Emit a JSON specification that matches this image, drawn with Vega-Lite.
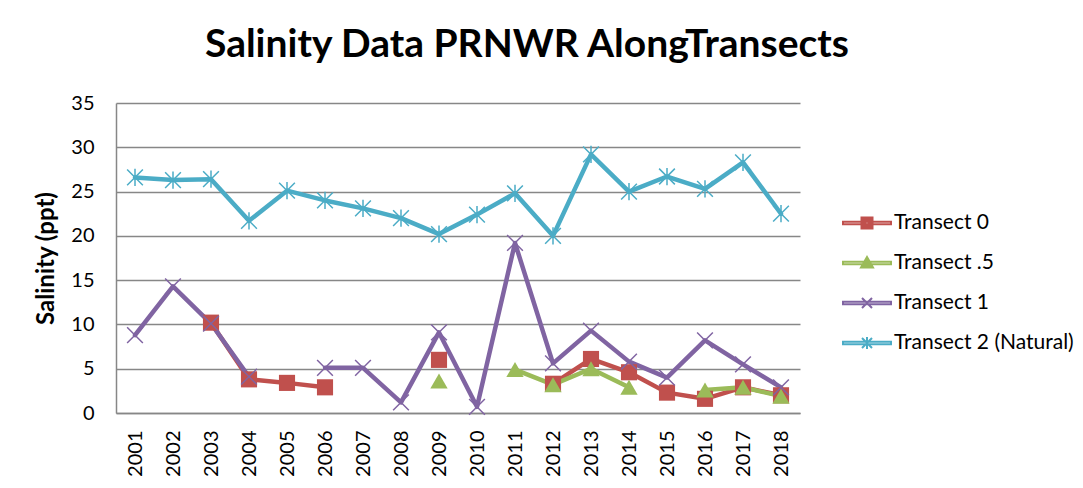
{
  "$schema": "https://vega.github.io/schema/vega-lite/v6.json",
  "width": 684,
  "height": 310,
  "autosize": {"type": "none"},
  "padding": {"left": 116, "top": 103, "right": 283, "bottom": 75},
  "background": "white",
  "title": {
    "text": "Salinity Data PRNWR AlongTransects",
    "font": "Lato",
    "fontSize": 39,
    "fontWeight": "bold",
    "color": "black",
    "anchor": "middle",
    "baseline": "alphabetic",
    "offset": 43,
    "dy": 46,
    "dx": 69
  },
  "config": {
    "view": {"stroke": null},
    "axis": {
      "labelFont": "Lato",
      "labelFontSize": 20,
      "labelColor": "black",
      "titleFont": "Lato",
      "titleColor": "black",
      "ticks": false,
      "tickSize": 0,
      "domainColor": "#878787",
      "domainWidth": 1.5,
      "gridColor": "#878787",
      "gridWidth": 1.5
    }
  },
  "data": {
    "values": [
      {"year": "2001", "series": "Transect 0", "value": null},
      {"year": "2002", "series": "Transect 0", "value": null},
      {"year": "2003", "series": "Transect 0", "value": 10.2},
      {"year": "2004", "series": "Transect 0", "value": 3.8},
      {"year": "2005", "series": "Transect 0", "value": 3.4},
      {"year": "2006", "series": "Transect 0", "value": 2.9},
      {"year": "2007", "series": "Transect 0", "value": null},
      {"year": "2008", "series": "Transect 0", "value": null},
      {"year": "2009", "series": "Transect 0", "value": 6.0},
      {"year": "2010", "series": "Transect 0", "value": null},
      {"year": "2011", "series": "Transect 0", "value": null},
      {"year": "2012", "series": "Transect 0", "value": 3.3},
      {"year": "2013", "series": "Transect 0", "value": 6.1},
      {"year": "2014", "series": "Transect 0", "value": 4.6},
      {"year": "2015", "series": "Transect 0", "value": 2.3},
      {"year": "2016", "series": "Transect 0", "value": 1.6},
      {"year": "2017", "series": "Transect 0", "value": 2.9},
      {"year": "2018", "series": "Transect 0", "value": 2.0},
      {"year": "2001", "series": "Transect .5", "value": null},
      {"year": "2002", "series": "Transect .5", "value": null},
      {"year": "2003", "series": "Transect .5", "value": null},
      {"year": "2004", "series": "Transect .5", "value": null},
      {"year": "2005", "series": "Transect .5", "value": null},
      {"year": "2006", "series": "Transect .5", "value": null},
      {"year": "2007", "series": "Transect .5", "value": null},
      {"year": "2008", "series": "Transect .5", "value": null},
      {"year": "2009", "series": "Transect .5", "value": 3.6},
      {"year": "2010", "series": "Transect .5", "value": null},
      {"year": "2011", "series": "Transect .5", "value": 4.9},
      {"year": "2012", "series": "Transect .5", "value": 3.2},
      {"year": "2013", "series": "Transect .5", "value": 5.0},
      {"year": "2014", "series": "Transect .5", "value": 2.9},
      {"year": "2015", "series": "Transect .5", "value": null},
      {"year": "2016", "series": "Transect .5", "value": 2.6},
      {"year": "2017", "series": "Transect .5", "value": 2.9},
      {"year": "2018", "series": "Transect .5", "value": 1.9},
      {"year": "2001", "series": "Transect 1", "value": 8.8},
      {"year": "2002", "series": "Transect 1", "value": 14.3},
      {"year": "2003", "series": "Transect 1", "value": 10.1},
      {"year": "2004", "series": "Transect 1", "value": 4.1},
      {"year": "2005", "series": "Transect 1", "value": null},
      {"year": "2006", "series": "Transect 1", "value": 5.1},
      {"year": "2007", "series": "Transect 1", "value": 5.1},
      {"year": "2008", "series": "Transect 1", "value": 1.2},
      {"year": "2009", "series": "Transect 1", "value": 9.1},
      {"year": "2010", "series": "Transect 1", "value": 0.7},
      {"year": "2011", "series": "Transect 1", "value": 19.2},
      {"year": "2012", "series": "Transect 1", "value": 5.6},
      {"year": "2013", "series": "Transect 1", "value": 9.3},
      {"year": "2014", "series": "Transect 1", "value": 5.8},
      {"year": "2015", "series": "Transect 1", "value": 4.0},
      {"year": "2016", "series": "Transect 1", "value": 8.2},
      {"year": "2017", "series": "Transect 1", "value": 5.5},
      {"year": "2018", "series": "Transect 1", "value": 2.9},
      {"year": "2001", "series": "Transect 2 (Natural)", "value": 26.6},
      {"year": "2002", "series": "Transect 2 (Natural)", "value": 26.3},
      {"year": "2003", "series": "Transect 2 (Natural)", "value": 26.4},
      {"year": "2004", "series": "Transect 2 (Natural)", "value": 21.7},
      {"year": "2005", "series": "Transect 2 (Natural)", "value": 25.1},
      {"year": "2006", "series": "Transect 2 (Natural)", "value": 24.0},
      {"year": "2007", "series": "Transect 2 (Natural)", "value": 23.1},
      {"year": "2008", "series": "Transect 2 (Natural)", "value": 22.0},
      {"year": "2009", "series": "Transect 2 (Natural)", "value": 20.2},
      {"year": "2010", "series": "Transect 2 (Natural)", "value": 22.4},
      {"year": "2011", "series": "Transect 2 (Natural)", "value": 24.8},
      {"year": "2012", "series": "Transect 2 (Natural)", "value": 20.0},
      {"year": "2013", "series": "Transect 2 (Natural)", "value": 29.2},
      {"year": "2014", "series": "Transect 2 (Natural)", "value": 25.0},
      {"year": "2015", "series": "Transect 2 (Natural)", "value": 26.7},
      {"year": "2016", "series": "Transect 2 (Natural)", "value": 25.3},
      {"year": "2017", "series": "Transect 2 (Natural)", "value": 28.3},
      {"year": "2018", "series": "Transect 2 (Natural)", "value": 22.5}
    ]
  },
  "encoding": {
    "x": {
      "field": "year",
      "type": "ordinal",
      "scale": {"type": "point", "padding": 0.5},
      "axis": {"title": null, "labelAngle": -90, "labelPadding": 17, "grid": false}
    },
    "y": {
      "field": "value",
      "type": "quantitative",
      "scale": {"domain": [0, 35], "nice": false},
      "axis": {
        "title": "Salinity (ppt)",
        "titleFontSize": 24,
        "titleFontWeight": "bold",
        "titlePadding": 12,
        "labelPadding": 22,
        "values": [0, 5, 10, 15, 20, 25, 30, 35],
        "grid": true
      }
    }
  },
  "layer": [
    {
      "transform": [{"filter": "isValid(datum.value)"}],
      "mark": {"type": "point", "filled": false, "strokeWidth": 2, "opacity": 0},
      "encoding": {
        "color": {
          "field": "series",
          "type": "nominal",
          "scale": {
            "domain": ["Transect 0", "Transect .5", "Transect 1", "Transect 2 (Natural)"],
            "range": ["#C0504D", "#9BBB59", "#8064A2", "#4BACC6"]
          },
          "legend": {
            "title": null,
            "orient": "none",
            "legendX": 740,
            "legendY": 109,
            "padding": 0,
            "symbolSize": 400,
            "symbolStrokeWidth": 2,
            "symbolOpacity": 1,
            "labelOffset": 16,
            "rowPadding": 19,
            "labelFont": "Lato",
            "labelFontSize": 21,
            "labelColor": "black",
            "labelLimit": 300
          }
        },
        "shape": {
          "field": "series",
          "type": "nominal",
          "scale": {
            "domain": ["Transect 0", "Transect .5", "Transect 1", "Transect 2 (Natural)"],
            "range": [
              "M-2.4,-0.12H2.4V0.12H-2.4Z M-0.55,-0.55H0.55V0.55H-0.55Z M-0.35,-0.35H0.35V0.35H-0.35Z M-0.15,-0.15H0.15V0.15H-0.15Z",
              "M-2.4,-0.12H2.4V0.12H-2.4Z M0,-0.6L0.6,0.45L-0.6,0.45Z M0,-0.36L0.4,0.33L-0.4,0.33Z M0,-0.13L0.2,0.22L-0.2,0.22Z",
              "M-2.4,-0.12H2.4V0.12H-2.4Z M-0.5,-0.5L0.5,0.5M-0.5,0.5L0.5,-0.5",
              "M-2.4,-0.12H2.4V0.12H-2.4Z M-0.5,-0.5L0.5,0.5M-0.5,0.5L0.5,-0.5M0,-0.6L0,0.6"
            ]
          },
          "legend": {
            "title": null,
            "orient": "none",
            "legendX": 740,
            "legendY": 109,
            "padding": 0,
            "symbolSize": 400,
            "symbolStrokeWidth": 2,
            "symbolOpacity": 1,
            "labelOffset": 16,
            "rowPadding": 19,
            "labelFont": "Lato",
            "labelFontSize": 21,
            "labelColor": "black",
            "labelLimit": 300
          }
        }
      }
    },
    {
      "mark": {
        "type": "line",
        "strokeWidth": 4.5,
        "strokeCap": "round",
        "strokeJoin": "round",
        "invalid": "break-paths-show-domains"
      },
      "encoding": {
        "color": {
          "field": "series",
          "type": "nominal",
          "scale": {
            "domain": ["Transect 0", "Transect .5", "Transect 1", "Transect 2 (Natural)"],
            "range": ["#C0504D", "#9BBB59", "#8064A2", "#4BACC6"]
          }
        }
      }
    },
    {
      "transform": [{"filter": "datum.series === 'Transect 0' && isValid(datum.value)"}],
      "mark": {"type": "point", "shape": "square", "filled": true, "size": 260, "color": "#C0504D", "opacity": 1}
    },
    {
      "transform": [{"filter": "datum.series === 'Transect .5' && isValid(datum.value)"}],
      "mark": {"type": "point", "shape": "triangle-up", "filled": true, "size": 300, "color": "#9BBB59", "opacity": 1}
    },
    {
      "transform": [{"filter": "datum.series === 'Transect 1' && isValid(datum.value)"}],
      "mark": {"type": "point", "shape": "M-1.05,-1.05L1.05,1.05M-1.05,1.05L1.05,-1.05", "filled": false, "size": 225, "strokeWidth": 1.5, "color": "#8064A2", "opacity": 1}
    },
    {
      "transform": [{"filter": "datum.series === 'Transect 2 (Natural)' && isValid(datum.value)"}],
      "mark": {"type": "point", "shape": "M-1.05,-1.05L1.05,1.05M-1.05,1.05L1.05,-1.05M0,-1.15L0,1.15", "filled": false, "size": 225, "strokeWidth": 1.5, "color": "#4BACC6", "opacity": 1}
    }
  ]
}
